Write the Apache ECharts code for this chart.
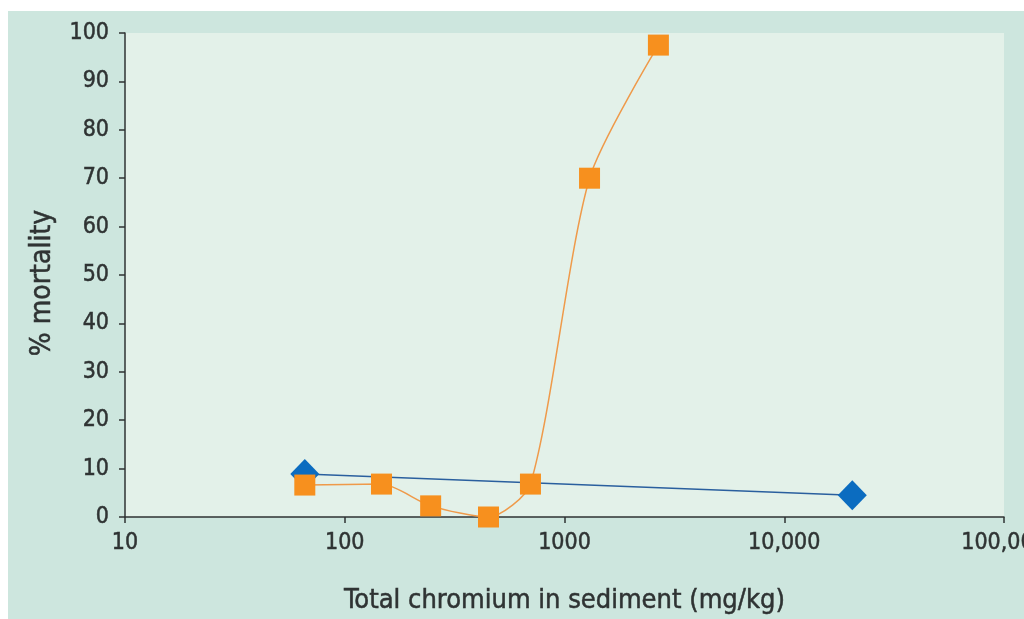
<!DOCTYPE html>
<html>
<head>
<meta charset="utf-8">
<style>
  html, body { margin: 0; padding: 0; background: #ffffff; }
  #chart { width: 1024px; height: 619px; }
</style>
<script src="https://cdn.jsdelivr.net/npm/echarts@6/dist/echarts.min.js"></script>
</head>
<body>
<div id="chart"></div>
<script>
// Sediment chromium (mg/kg) vs. % mortality
const referenceChromium = [65.8, 20400];
const referenceMortality = [8.9, 4.5];

const testChromium = [65.8, 147, 246, 451, 700, 1300, 2675];
const testMortality = [6.6, 6.8, 2.3, 0, 6.8, 70, 97.5];

const yTicks = [0, 10, 20, 30, 40, 50, 60, 70, 80, 90, 100];
const xTickLabels = { 10: '10', 100: '100', 1000: '1000', 10000: '10,000', 100000: '100,000' };

const xAxisTitle = 'Total chromium in sediment (mg/kg)';
const yAxisTitle = '% mortality';

const font = '"DejaVu Sans Condensed", "Liberation Sans Narrow", "Roboto", sans-serif';
const ink = '#2f3333';
// a thin outline in the text colour gives the labels a slightly heavier stroke
const heavy = { textBorderColor: ink, textBorderWidth: 0.5 };

function pairs(xs, ys) { return xs.map((x, i) => [x, ys[i]]); }

const chart = echarts.init(document.getElementById('chart'), null, { renderer: 'canvas' });
chart.setOption({
  backgroundColor: '#ffffff',
  animation: false,
  graphic: [{
    type: 'rect',
    z: -10,
    shape: { x: 8, y: 11, width: 1016, height: 608 },
    style: { fill: '#cde6de' }
  }],
  grid: {
    left: 125, top: 33, right: 20, bottom: 102,
    outerBoundsMode: 'none',
    containLabel: false,
    show: true, backgroundColor: '#e3f1e9', borderWidth: 0
  },
  xAxis: {
    type: 'log', logBase: 10, min: 10, max: 100000,
    name: xAxisTitle, nameLocation: 'middle', nameGap: 70,
    nameTextStyle: Object.assign({ color: ink, fontSize: 27, fontFamily: font }, heavy),
    axisLine: { show: true, onZero: false, lineStyle: { color: ink, width: 1.5 } },
    axisTick: { show: true, inside: false, length: 6, lineStyle: { color: ink, width: 1.5 } },
    minorTick: { show: false },
    splitLine: { show: false },
    axisLabel: Object.assign({
      color: ink, fontSize: 23, fontFamily: font, margin: 15,
      formatter: v => xTickLabels[Math.round(v)] || ''
    }, heavy)
  },
  yAxis: {
    type: 'value', min: 0, max: 100, interval: 10,
    name: yAxisTitle, nameLocation: 'middle', nameGap: 68, nameRotate: 90,
    nameTextStyle: Object.assign({ color: ink, fontSize: 28, fontFamily: font, padding: [0, 16, 0, 0] }, heavy),
    axisLine: { show: true, lineStyle: { color: ink, width: 1.5 } },
    axisTick: { show: true, length: 6, lineStyle: { color: ink, width: 1.5 } },
    splitLine: { show: false },
    axisLabel: Object.assign({
      color: ink, fontSize: 23, fontFamily: font, margin: 16,
      formatter: v => yTicks.includes(v) ? String(v) : ''
    }, heavy)
  },
  series: [
    {
      name: 'reference',
      type: 'line',
      data: pairs(referenceChromium, referenceMortality),
      symbol: 'diamond', symbolSize: [29, 30],
      itemStyle: { color: '#0b6cc0' },
      lineStyle: { color: '#2a5f9e', width: 1.5 },
      z: 2
    },
    {
      name: 'test',
      type: 'line',
      data: pairs(testChromium, testMortality),
      smooth: 0.25,
      symbol: 'rect', symbolSize: 21,
      itemStyle: { color: '#f7901e' },
      lineStyle: { color: '#ef9a4a', width: 1.5 },
      z: 3
    }
  ]
});
</script>
</body>
</html>
